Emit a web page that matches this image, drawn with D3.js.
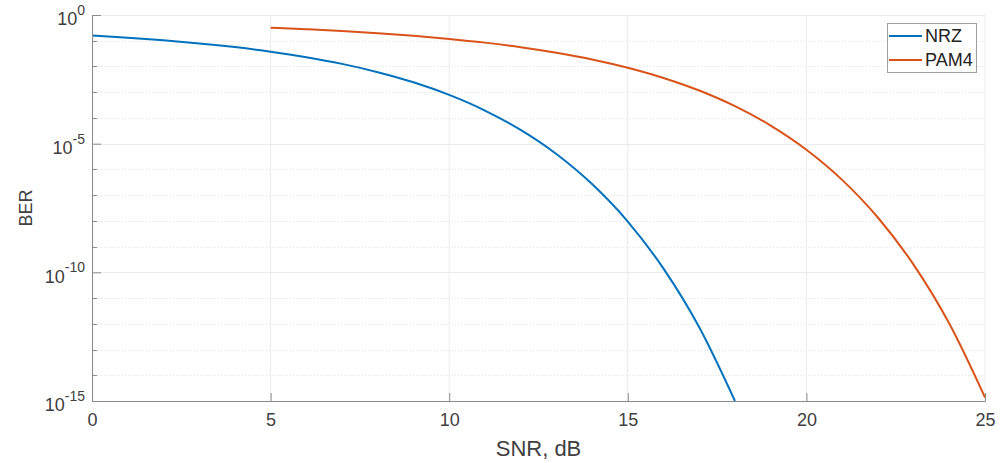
<!DOCTYPE html>
<html>
<head>
<meta charset="utf-8">
<script src="https://cdn.jsdelivr.net/npm/d3@7"></script>
<style>
  html, body { margin: 0; padding: 0; background: #fff; }
  svg { display: block; font-family: "Liberation Sans", Arial, Helvetica, sans-serif; }
</style>
</head>
<body>
<svg id="chart" width="1007" height="463"></svg>
<script>
// ---- data ----
const seriesNames = ["NRZ", "PAM4"];
const seriesColors = ["#0072BD", "#D95319"];

const nrzSNR = [0,1,2,3,4,5,6,7,8,9,10,11,12,13,14,15,16,17,18];
const nrzBER = [1.59e-1,1.31e-1,1.04e-1,7.89e-2,5.65e-2,3.77e-2,2.30e-2,1.26e-2,6.00e-3,2.42e-3,
                7.83e-4,1.94e-4,3.43e-5,3.97e-6,2.69e-7,9.4e-9,1.39e-10,7.3e-13,1.0e-15];

const pamSNR = [5,6,7,8,9,10,11,12,13,14,15,16,17,18,19,20,21,22,23,24,25];
const pamBER = [3.20e-1,2.79e-1,2.38e-1,1.96e-1,1.56e-1,1.18e-1,8.44e-2,5.63e-2,3.43e-2,1.88e-2,
                8.93e-3,3.58e-3,1.16e-3,2.87e-4,5.04e-5,5.81e-6,3.92e-7,1.35e-8,2.0e-10,1.02e-12,1.37e-15];

const xTicks = [0,5,10,15,20,25];
const yMajorExp = [0,-5,-10,-15];
const yMinorExp = [-1,-2,-3,-4,-6,-7,-8,-9,-11,-12,-13,-14];
const xLabel = "SNR, dB";
const yLabel = "BER";

// ---- layout ----
const svg = d3.select("#chart");
const L = 92, R = 985, T = 15, B = 401;
const x = d3.scaleLinear().domain([0, 25]).range([L, R]);
const y = d3.scaleLog().domain([1e-15, 1]).range([B, T]);

const axisColor = "#8a8a8a";
const textColor = "#404040";

// grid
const grid = svg.append("g");
grid.selectAll("line.xg").data(xTicks.slice(1)).join("line")
  .attr("x1", d => x(d)).attr("x2", d => x(d))
  .attr("y1", T).attr("y2", B)
  .attr("stroke", "#ebebeb").attr("stroke-width", 1);
grid.selectAll("line.ym").data(yMinorExp).join("line")
  .attr("x1", L).attr("x2", R)
  .attr("y1", d => Math.round(y(Math.pow(10, d))) + 0.5)
  .attr("y2", d => Math.round(y(Math.pow(10, d))) + 0.5)
  .attr("stroke", "#e3e3e3").attr("stroke-width", 1).attr("stroke-dasharray", "1,2");
grid.selectAll("line.yM").data(yMajorExp.slice(0, 3)).join("line")
  .attr("x1", L).attr("x2", R)
  .attr("y1", d => Math.round(y(Math.pow(10, d))) + 0.5)
  .attr("y2", d => Math.round(y(Math.pow(10, d))) + 0.5)
  .attr("stroke", "#ebebeb").attr("stroke-width", 1);

// lines
const line = d3.line()
  .x(d => x(d[0]))
  .y(d => y(d[1]))
  .curve(d3.curveMonotoneX);

const series = [
  d3.zip(nrzSNR, nrzBER),
  d3.zip(pamSNR, pamBER)
];
svg.append("g").selectAll("path").data(series).join("path")
  .attr("d", line)
  .attr("fill", "none")
  .attr("stroke", (d, i) => seriesColors[i])
  .attr("stroke-width", 2);

// x axis
const xAxis = d3.axisBottom(x).tickValues(xTicks).tickSizeInner(-8).tickSizeOuter(0)
  .tickPadding(12).tickFormat(d3.format("d"));
const gx = svg.append("g").attr("transform", `translate(0,${B})`).call(xAxis);
gx.select(".domain").attr("stroke", axisColor);
gx.selectAll(".tick line").attr("stroke", axisColor);
gx.selectAll(".tick text").attr("fill", textColor).attr("font-size", 18)
  .attr("font-family", "Liberation Sans, Arial, sans-serif");

// y axis (major ticks)
const yAxis = d3.axisLeft(y).tickValues(yMajorExp.map(e => Math.pow(10, e)))
  .tickSizeInner(-9).tickSizeOuter(0).tickPadding(7).tickFormat("");
const gy = svg.append("g").attr("transform", `translate(${L},0)`).call(yAxis);
gy.select(".domain").attr("stroke", axisColor);
gy.selectAll(".tick line").attr("stroke", axisColor);
gy.selectAll(".tick").each(function(d) {
  const e = Math.round(Math.log10(d));
  const t = d3.select(this).append("text")
    .attr("x", -7).attr("dy", "0.32em").attr("text-anchor", "end")
    .attr("fill", textColor).attr("font-size", 18)
    .attr("font-family", "Liberation Sans, Arial, sans-serif");
  t.append("tspan").attr("dy", "0.55em").text("10");
  t.append("tspan").attr("font-size", 14).attr("dy", "-0.75em").text(String(e).replace("-", "-"));
});
// y minor ticks
svg.append("g").selectAll("line").data(yMinorExp).join("line")
  .attr("x1", L).attr("x2", L + 5)
  .attr("y1", d => Math.round(y(Math.pow(10, d))) + 0.5)
  .attr("y2", d => Math.round(y(Math.pow(10, d))) + 0.5)
  .attr("stroke", axisColor);

// axis labels
svg.append("text").attr("x", (L + R) / 2).attr("y", 456).attr("text-anchor", "middle")
  .attr("fill", textColor).attr("font-size", 22).text(xLabel);
svg.append("text").attr("transform", `translate(32,${(T + B) / 2}) rotate(-90)`)
  .attr("text-anchor", "middle").attr("fill", textColor).attr("font-size", 18).text(yLabel);

// legend
const lg = svg.append("g");
lg.append("rect").attr("x", 887.5).attr("y", 23.5).attr("width", 89).attr("height", 49)
  .attr("fill", "#fff").attr("stroke", "#a0a0a0").attr("stroke-width", 1);
seriesNames.forEach((name, i) => {
  const yy = 36 + i * 24;
  lg.append("line").attr("x1", 889).attr("x2", 922).attr("y1", yy).attr("y2", yy)
    .attr("stroke", seriesColors[i]).attr("stroke-width", 2);
  lg.append("text").attr("x", 925).attr("y", yy).attr("dy", "0.35em")
    .attr("fill", "#222").attr("font-size", 18).text(name);
});
</script>
</body>
</html>
